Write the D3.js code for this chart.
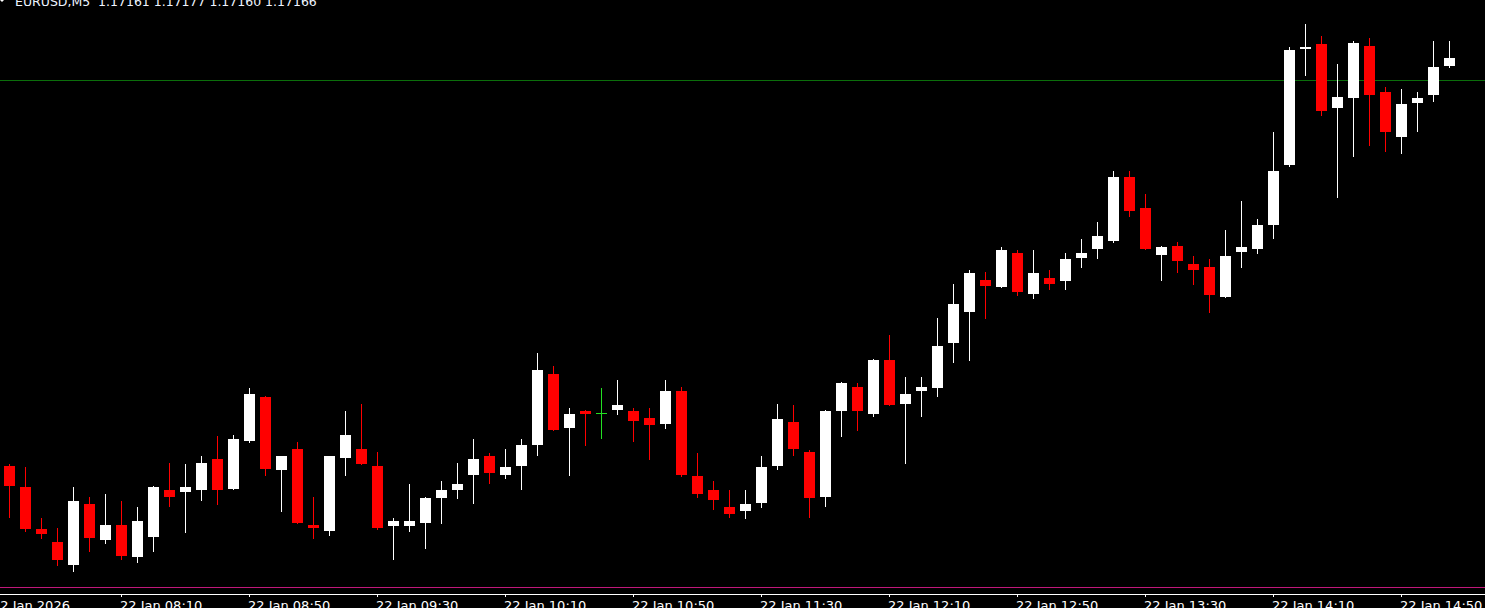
<!DOCTYPE html>
<html>
<head>
<meta charset="utf-8">
<script src="https://cdn.jsdelivr.net/npm/d3@7"></script>
<style>
html,body{margin:0;padding:0;background:#000;overflow:hidden;}
svg{display:block;}
</style>
</head>
<body>
<svg id="chart" width="1485" height="608"></svg>
<script>
const symbolTitle = "EURUSD,M5  1.17161 1.17177 1.17160 1.17166";

const times = ["07:35","07:40","07:45","07:50","07:55","08:00","08:05","08:10","08:15","08:20",
"08:25","08:30","08:35","08:40","08:45","08:50","08:55","09:00","09:05","09:10",
"09:15","09:20","09:25","09:30","09:35","09:40","09:45","09:50","09:55","10:00",
"10:05","10:10","10:15","10:20","10:25","10:30","10:35","10:40","10:45","10:50",
"10:55","11:00","11:05","11:10","11:15","11:20","11:25","11:30","11:35","11:40",
"11:45","11:50","11:55","12:00","12:05","12:10","12:15","12:20","12:25","12:30",
"12:35","12:40","12:45","12:50","12:55","13:00","13:05","13:10","13:15","13:20",
"13:25","13:30","13:35","13:40","13:45","13:50","13:55","14:00","14:05","14:10",
"14:15","14:20","14:25","14:30","14:35","14:40","14:45","14:50","14:55","15:00","15:05"];

const opens = [1.16903,1.16889,1.16862,1.16854,1.16839,1.16878,1.16855,1.16865,1.16844,1.16857,
1.16887,1.16886,1.16887,1.16907,1.16888,1.16919,1.16947,1.16900,1.16914,1.16865,
1.16861,1.16908,1.16914,1.16903,1.16864,1.16864,1.16866,1.16882,1.16887,1.16897,
1.16909,1.16897,1.16903,1.16916,1.16962,1.16927,1.16938,1.16937,1.16939,1.16938,
1.16934,1.16930,1.16951,1.16896,1.16887,1.16876,1.16874,1.16879,1.16903,1.16931,
1.16912,1.16883,1.16938,1.16954,1.16936,1.16971,1.16943,1.16951,1.16953,1.16982,
1.17002,1.17023,1.17018,1.17040,1.17014,1.17024,1.17022,1.17037,1.17043,1.17048,
1.17089,1.17069,1.17039,1.17045,1.17033,1.17031,1.17012,1.17041,1.17043,1.17058,
1.17097,1.17172,1.17175,1.17134,1.17140,1.17174,1.17144,1.17115,1.17137,1.17142,1.17161];

const highs = [1.16904,1.16902,1.16869,1.16863,1.16889,1.16883,1.16885,1.16880,1.16876,1.16890,
1.16905,1.16904,1.16909,1.16922,1.16923,1.16953,1.16948,1.16909,1.16918,1.16883,
1.16909,1.16938,1.16943,1.16912,1.16869,1.16891,1.16883,1.16893,1.16905,1.16920,
1.16911,1.16914,1.16920,1.16976,1.16967,1.16940,1.16939,1.16953,1.16958,1.16940,
1.16940,1.16958,1.16954,1.16911,1.16893,1.16887,1.16887,1.16909,1.16943,1.16942,
1.16913,1.16939,1.16957,1.16956,1.16972,1.16987,1.16960,1.16960,1.16998,1.17020,
1.17029,1.17028,1.17044,1.17042,1.17042,1.17029,1.17040,1.17049,1.17060,1.17093,
1.17093,1.17078,1.17045,1.17047,1.17038,1.17036,1.17055,1.17074,1.17062,1.17118,
1.17173,1.17188,1.17180,1.17162,1.17177,1.17179,1.17147,1.17146,1.17144,1.17177,1.17177];

const lows = [1.16870,1.16861,1.16856,1.16839,1.16835,1.16848,1.16853,1.16843,1.16841,1.16848,
1.16877,1.16860,1.16881,1.16878,1.16888,1.16918,1.16897,1.16874,1.16866,1.16856,
1.16858,1.16897,1.16904,1.16862,1.16843,1.16861,1.16850,1.16866,1.16882,1.16879,
1.16892,1.16895,1.16888,1.16910,1.16926,1.16897,1.16916,1.16921,1.16936,1.16919,
1.16907,1.16927,1.16896,1.16883,1.16875,1.16870,1.16869,1.16876,1.16901,1.16910,
1.16870,1.16877,1.16922,1.16926,1.16935,1.16942,1.16905,1.16935,1.16948,1.16970,
1.16971,1.16998,1.17018,1.17013,1.17011,1.17017,1.17017,1.17031,1.17037,1.17047,
1.17064,1.17043,1.17023,1.17028,1.17020,1.17002,1.17012,1.17031,1.17040,1.17050,
1.17096,1.17155,1.17129,1.17076,1.17103,1.17110,1.17106,1.17105,1.17119,1.17138,1.17160];

const closes = [1.16890,1.16862,1.16859,1.16842,1.16880,1.16856,1.16865,1.16845,1.16867,1.16889,
1.16883,1.16889,1.16905,1.16887,1.16920,1.16949,1.16901,1.16909,1.16866,1.16863,
1.16909,1.16923,1.16904,1.16863,1.16867,1.16867,1.16882,1.16887,1.16891,1.16907,
1.16898,1.16902,1.16916,1.16965,1.16926,1.16936,1.16936,1.16937,1.16942,1.16932,
1.16929,1.16951,1.16897,1.16885,1.16881,1.16872,1.16878,1.16902,1.16933,1.16914,
1.16882,1.16938,1.16956,1.16938,1.16971,1.16942,1.16949,1.16954,1.16980,1.17007,
1.17027,1.17019,1.17042,1.17015,1.17027,1.17020,1.17036,1.17040,1.17051,1.17089,
1.17067,1.17043,1.17044,1.17035,1.17029,1.17013,1.17038,1.17044,1.17058,1.17093,
1.17171,1.17173,1.17132,1.17141,1.17176,1.17142,1.17118,1.17136,1.17140,1.17160,1.17166];

const tickTimes = ["07:30","08:10","08:50","09:30","10:10","10:50","11:30","12:10","12:50","13:30","14:10","14:50"];
const tickLabels = ["22 Jan 2026","22 Jan 08:10","22 Jan 08:50","22 Jan 09:30","22 Jan 10:10","22 Jan 10:50",
"22 Jan 11:30","22 Jan 12:10","22 Jan 12:50","22 Jan 13:30","22 Jan 14:10","22 Jan 14:50"];

const hLinePrice = 1.17152;

const parseT = d3.timeParse("%Y-%m-%d %H:%M");
const toDate = s => parseT("2026-01-22 " + s);

const svg = d3.select("#chart");
svg.append("rect").attr("width",1485).attr("height",608).attr("fill","#000");

const x = d3.scaleTime()
  .domain([toDate(times[0]), toDate(times[times.length-1])])
  .range([9.5, 1449.5]);

const y = d3.scaleLinear()
  .domain([1.16800, 1.17200])
  .range([58 + 366*1.55, 58 - 34*1.55]);

const data = times.map((t,i)=>({t:toDate(t), o:opens[i], h:highs[i], l:lows[i], c:closes[i]}));

// horizontal price line
svg.append("line")
  .attr("x1",0).attr("x2",1485)
  .attr("y1",Math.round(y(hLinePrice))+0.5).attr("y2",Math.round(y(hLinePrice))+0.5)
  .attr("stroke","#0b6e0b").attr("stroke-width",1);

const g = svg.append("g").attr("shape-rendering","crispEdges");
const col = d => d.c > d.o ? "#ffffff" : (d.c < d.o ? "#ff0000" : "#22e022");

// wicks
g.selectAll("rect.wick").data(data).enter().append("rect")
  .attr("class","wick")
  .attr("x", d => Math.floor(x(d.t)))
  .attr("width",1)
  .attr("y", d => Math.round(y(d.h)))
  .attr("height", d => Math.max(1, Math.round(y(d.l)) - Math.round(y(d.h)) + 1))
  .attr("fill", col);

// bodies
g.selectAll("rect.body").data(data).enter().append("rect")
  .attr("class","body")
  .attr("x", d => Math.round(x(d.t) - 5.5))
  .attr("width",11)
  .attr("y", d => Math.round(y(Math.max(d.o,d.c))))
  .attr("height", d => Math.max(1, Math.round(y(Math.min(d.o,d.c))) - Math.round(y(Math.max(d.o,d.c)))))
  .attr("fill", col);

// bottom border lines
svg.append("line").attr("x1",0).attr("x2",1485).attr("y1",587.5).attr("y2",587.5)
  .attr("stroke","#c0187a").attr("stroke-width",1);
svg.append("line").attr("x1",0).attr("x2",1485).attr("y1",594.5).attr("y2",594.5)
  .attr("stroke","#ffffff").attr("stroke-width",1);

// time axis ticks and labels
const ticks = tickTimes.map((t,i)=>({t:toDate(t), label:tickLabels[i]}));
svg.append("g").attr("shape-rendering","crispEdges")
  .selectAll("rect").data(ticks).enter().append("rect")
  .attr("x", d => Math.floor(x(d.t)))
  .attr("y",594).attr("width",1).attr("height",3).attr("fill","#fff");
svg.append("g").selectAll("text").data(ticks).enter().append("text")
  .attr("x", d => Math.floor(x(d.t)) - 1)
  .attr("y", 610)
  .attr("fill","#fff")
  .attr("font-family","DejaVu Sans, sans-serif")
  .attr("font-size","13px")
  .text(d => d.label);

// title
svg.append("path").attr("d","M0,0 L4,0 L2,2 Z").attr("fill","#fff");
svg.append("text")
  .attr("x",15).attr("y",6)
  .attr("fill","#eef4ff")
  .attr("font-family","DejaVu Sans, sans-serif")
  .attr("font-size","12.5px")
  .attr("xml:space","preserve")
  .style("white-space","pre")
  .text(symbolTitle);
</script>
</body>
</html>
